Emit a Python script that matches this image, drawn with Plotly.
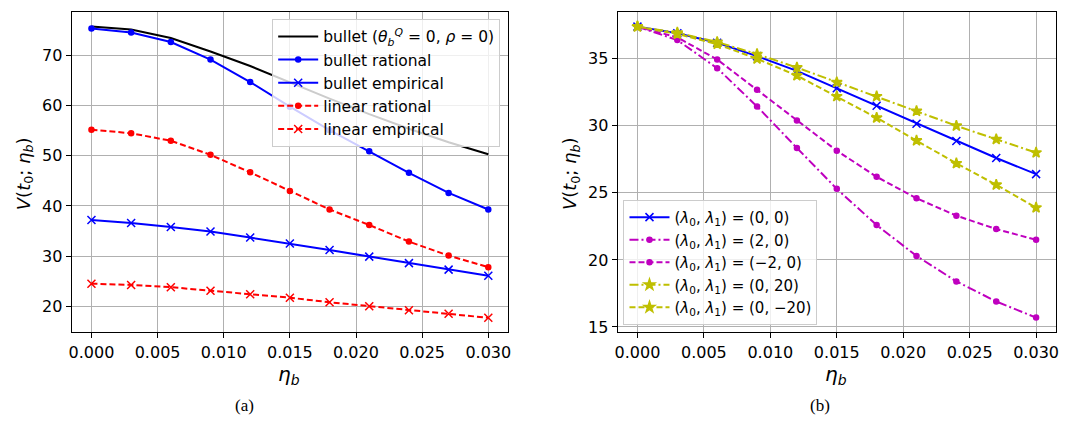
import plotly.graph_objects as go

eta = [0.000, 0.003, 0.006, 0.009, 0.012, 0.015, 0.018, 0.021, 0.024, 0.027, 0.030]

# Panel (a)
bullet = [75.8, 75.2, 73.5, 70.8, 67.9, 64.6, 61.4, 58.3, 55.4, 52.7, 50.3]
bullet_rational = [75.4, 74.6, 72.7, 69.2, 64.7, 59.8, 55.1, 50.9, 46.6, 42.6, 39.3]
bullet_empirical = [37.2, 36.6, 35.8, 34.9, 33.7, 32.5, 31.2, 29.9, 28.6, 27.3, 26.1]
linear_rational = [55.2, 54.5, 53.0, 50.2, 46.7, 43.0, 39.3, 36.2, 32.9, 30.1, 27.8]
linear_empirical = [24.5, 24.25, 23.8, 23.1, 22.4, 21.7, 20.8, 20.0, 19.2, 18.5, 17.7]

# Panel (b)
lam_00 = [37.4, 36.9, 36.2, 35.2, 34.1, 32.8, 31.5, 30.15, 28.87, 27.6, 26.4]
lam_20 = [37.4, 36.4, 34.3, 31.45, 28.35, 25.3, 22.6, 20.3, 18.4, 16.9, 15.7]
lam_m20 = [37.4, 36.6, 34.95, 32.7, 30.4, 28.15, 26.2, 24.6, 23.3, 22.3, 21.5]
lam_0_20 = [37.4, 36.95, 36.25, 35.35, 34.35, 33.25, 32.2, 31.1, 30.0, 29.0, 28.0]
lam_0_m20 = [37.4, 36.85, 36.1, 35.0, 33.75, 32.2, 30.6, 28.9, 27.2, 25.6, 23.9]

xticks = [0.000, 0.005, 0.010, 0.015, 0.020, 0.025, 0.030]

BLUE = "#0000ff"
RED = "#ff0000"
MAG = "#bf00bf"
YEL = "#bfbf00"
DASH = "6px,3px"
DASHDOT = "9px,3px,2px,3px"
LW = 2

fig = go.Figure()

def add(x, y, name, color, dash, symbol, size, xa, ya, legend):
    fig.add_trace(go.Scatter(
        x=x, y=y, name=name, mode="lines+markers" if symbol else "lines",
        line=dict(color=color, width=LW, dash=dash),
        marker=dict(symbol=symbol or "circle", size=size, color=color,
                    line=dict(color=color, width=1.5)),
        xaxis=xa, yaxis=ya, legend=legend))

add(eta, bullet, "bullet (<i>θ</i><sub><i>b</i></sub><sup><i>Q</i></sup> = 0, <i>ρ</i> = 0)", "black", "solid", None, 6, "x", "y", "legend")
add(eta, bullet_rational, "bullet rational", BLUE, "solid", "circle", 5, "x", "y", "legend")
add(eta, bullet_empirical, "bullet empirical", BLUE, "solid", "x-thin-open", 8, "x", "y", "legend")
add(eta, linear_rational, "linear rational", RED, DASH, "circle", 5, "x", "y", "legend")
add(eta, linear_empirical, "linear empirical", RED, DASH, "x-thin-open", 8, "x", "y", "legend")

add(eta, lam_00, "(<i>λ</i><sub>0</sub>, <i>λ</i><sub>1</sub>) = (0, 0)", BLUE, "solid", "x-thin-open", 8, "x2", "y2", "legend2")
add(eta, lam_20, "(<i>λ</i><sub>0</sub>, <i>λ</i><sub>1</sub>) = (2, 0)", MAG, DASHDOT, "circle", 5, "x2", "y2", "legend2")
add(eta, lam_m20, "(<i>λ</i><sub>0</sub>, <i>λ</i><sub>1</sub>) = (−2, 0)", MAG, DASH, "circle", 5, "x2", "y2", "legend2")
add(eta, lam_0_20, "(<i>λ</i><sub>0</sub>, <i>λ</i><sub>1</sub>) = (0, 20)", YEL, DASHDOT, "star", 8, "x2", "y2", "legend2")
add(eta, lam_0_m20, "(<i>λ</i><sub>0</sub>, <i>λ</i><sub>1</sub>) = (0, −20)", YEL, DASH, "star", 8, "x2", "y2", "legend2")

W, H = 1065, 422
FONT = "DejaVu Sans"
tickfont = dict(family=FONT, size=16, color="black")
common_ax = dict(showgrid=True, gridcolor="#b0b0b0", gridwidth=1,
                 showline=True, linecolor="black", linewidth=1, mirror=True,
                 ticks="outside", ticklen=5, tickcolor="black",
                 tickfont=tickfont, zeroline=False)

ydom = [1 - 335.5 / H, 1 - 12 / H]
fig.update_layout(
    width=W, height=H, margin=dict(l=0, r=0, t=0, b=0),
    plot_bgcolor="white", paper_bgcolor="white",
    font=dict(family=FONT, size=16, color="black"),
    xaxis=dict(domain=[69 / W, 508 / W], range=[-0.0015, 0.0315], tickvals=xticks,
               tickformat=".3f", anchor="y", **common_ax),
    yaxis=dict(domain=ydom, range=[14.8, 78.7], dtick=10, anchor="x", **common_ax),
    xaxis2=dict(domain=[618 / W, 1059 / W], range=[-0.0015, 0.0315], tickvals=xticks,
                tickformat=".3f", anchor="y2", **common_ax),
    yaxis2=dict(domain=ydom, range=[14.6, 38.5], dtick=5, anchor="x2", **common_ax),
    legend=dict(x=500 / W, y=1 - 19 / H, xanchor="right", yanchor="top",
                bgcolor="rgba(255,255,255,0.8)", bordercolor="#cccccc", borderwidth=1,
                font=dict(family=FONT, size=15.5), tracegroupgap=0, itemwidth=40),
    legend2=dict(x=624 / W, y=1 - 328 / H, xanchor="left", yanchor="bottom",
                 bgcolor="rgba(255,255,255,0.8)", bordercolor="#cccccc", borderwidth=1,
                 font=dict(family=FONT, size=15), tracegroupgap=0, itemwidth=40),
    showlegend=True,
)

ann = []
def A(text, x, y, size=18, angle=0, family=FONT):
    ann.append(dict(text=text, x=x / W, y=1 - y / H, xref="paper", yref="paper",
                    showarrow=False, textangle=angle, xanchor="center", yanchor="middle",
                    font=dict(family=family, size=size, color="black")))

A("<i>η</i><sub><i>b</i></sub>", 288, 379, 20)
A("<i>η</i><sub><i>b</i></sub>", 838, 379, 20)
A("<i>V</i>(<i>t</i><sub>0</sub>; <i>η</i><sub><i>b</i></sub>)", 22, 175, 18, -90)
A("<i>V</i>(<i>t</i><sub>0</sub>; <i>η</i><sub><i>b</i></sub>)", 572, 175, 18, -90)
A("(a)", 243, 409, 17, 0, "Liberation Serif")
A("(b)", 822, 409, 17, 0, "Liberation Serif")
fig.update_layout(annotations=ann)

fig.write_html("out.html")
